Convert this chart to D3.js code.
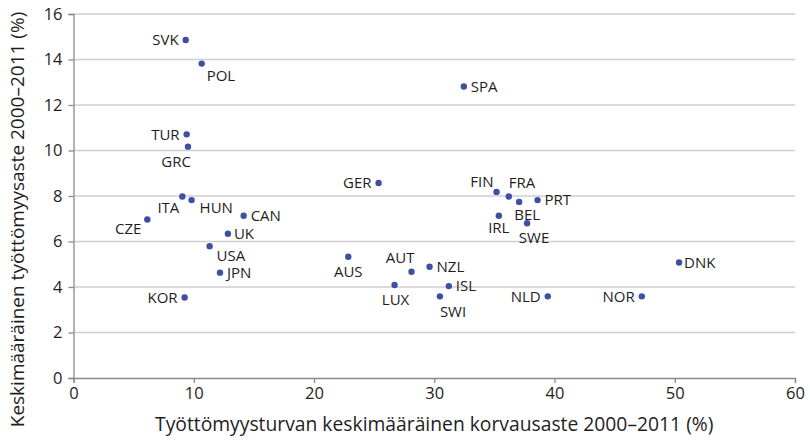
<!DOCTYPE html>
<html>
<head>
<meta charset="utf-8">
<script src="https://cdn.jsdelivr.net/npm/d3@7"></script>
<style>
  body { margin: 0; background: #fff; }
  text { font-family: "Open Sans", "Noto Sans", sans-serif; fill: #1e1e1e; }
</style>
</head>
<body>
<div id="chart"></div>
<script>
// data
let countries = ["SVK","POL","TUR","GRC","SPA","GER","ITA","HUN","CZE","CAN","UK","USA","JPN","KOR",
                 "AUS","FIN","FRA","BEL","PRT","IRL","SWE","AUT","NZL","LUX","ISL","SWI","NLD","NOR","DNK"];
let replacementRate = [9.33,10.66,9.41,9.52,32.46,25.37,9.05,9.82,6.14,14.15,12.84,11.32,12.18,9.24,
                       22.85,35.18,36.2,37.06,38.59,35.37,37.72,28.11,29.61,26.7,31.21,30.47,39.44,47.26,50.36];
let unemployment = [14.86,13.82,10.71,10.17,12.81,8.57,7.98,7.82,6.97,7.13,6.34,5.79,4.63,3.54,
                    5.33,8.18,7.98,7.74,7.82,7.13,6.8,4.67,4.89,4.09,4.04,3.59,3.59,3.59,5.08];
let xTicks = [0,10,20,30,40,50,60];
let yTicks = [0,2,4,6,8,10,12,14,16];
let xTitle = "Työttömyysturvan keskimääräinen korvausaste 2000–2011 (%)";
let yTitle = "Keskimääräinen työttömyysaste 2000–2011 (%)";

// label placement: [anchor, dx, dy]
let labelPlace = {
  SVK:["end",-7,0], POL:["start",5,12], TUR:["end",-7,0], GRC:["end",3,15], SPA:["start",7,0],
  GER:["end",-7,0], ITA:["end",-3,11], HUN:["start",8,8], CZE:["end",-6,9], CAN:["start",7,0],
  UK:["start",6,0], USA:["start",7,9], JPN:["start",7,0], KOR:["end",-7,0], AUS:["middle",0,15],
  FIN:["end",-3,-10], FRA:["start",0,-14], BEL:["middle",8,13], PRT:["start",7,0], IRL:["middle",0,12],
  SWE:["middle",7,14], AUT:["end",3,-14], NZL:["start",7,0], LUX:["middle",1,15], ISL:["start",7,0],
  SWI:["start",0,15], NLD:["end",-7,0], NOR:["end",-7,0], DNK:["start",5,0]
};

let points = countries.map((c,i)=>({name:c, x:replacementRate[i], y:unemployment[i]}));

const width = 810, height = 441;
const margin = {top: 14, right: 15, bottom: 63, left: 73.5};

const svg = d3.select("#chart").append("svg").attr("width", width).attr("height", height);

const x = d3.scaleLinear().domain([0,60]).range([margin.left, width - margin.right]);
const y = d3.scaleLinear().domain([0,16]).range([height - margin.bottom, margin.top]);

// grid
svg.append("g").selectAll("line").data(yTicks.filter(d=>d>0)).join("line")
  .attr("x1", x(0)).attr("x2", x(60))
  .attr("y1", d=>y(d)).attr("y2", d=>y(d))
  .attr("stroke", "#cfcfcf").attr("stroke-width", 1.3);

// axes
const xAxis = svg.append("g").attr("transform", `translate(0,${y(0)})`)
  .call(d3.axisBottom(x).tickValues(xTicks).tickSize(5).tickPadding(4));
const yAxis = svg.append("g").attr("transform", `translate(${x(0)},0)`)
  .call(d3.axisLeft(y).tickValues(yTicks).tickSize(5).tickPadding(6));
[xAxis, yAxis].forEach(a=>{
  a.select(".domain").attr("stroke", "#8a8a8a").attr("stroke-width", 1.3);
  a.selectAll(".tick line").attr("stroke", "#8a8a8a").attr("stroke-width", 1.3);
  a.selectAll(".tick text").attr("font-size", 16.5).attr("fill", "#1e1e1e")
    .attr("font-family", "\"Open Sans\", sans-serif");
});

// titles
svg.append("text").attr("x", (x(0)+x(60))/2).attr("y", 431)
  .attr("text-anchor", "middle").attr("font-size", 19.3).text(xTitle);
svg.append("text").attr("transform", `translate(24,${height/2 - 1}) rotate(-90)`)
  .attr("text-anchor", "middle").attr("font-size", 19).text(yTitle);

// points
svg.append("g").selectAll("circle").data(points).join("circle")
  .attr("cx", d=>x(d.x)).attr("cy", d=>y(d.y)).attr("r", 3.2)
  .attr("fill", "#3d4fa3");

svg.append("g").selectAll("text").data(points).join("text")
  .attr("x", d=>x(d.x) + labelPlace[d.name][1])
  .attr("y", d=>y(d.y) + labelPlace[d.name][2])
  .attr("dy", "0.36em")
  .attr("text-anchor", d=>labelPlace[d.name][0])
  .attr("font-size", 15)
  .text(d=>d.name);
</script>
</body>
</html>
